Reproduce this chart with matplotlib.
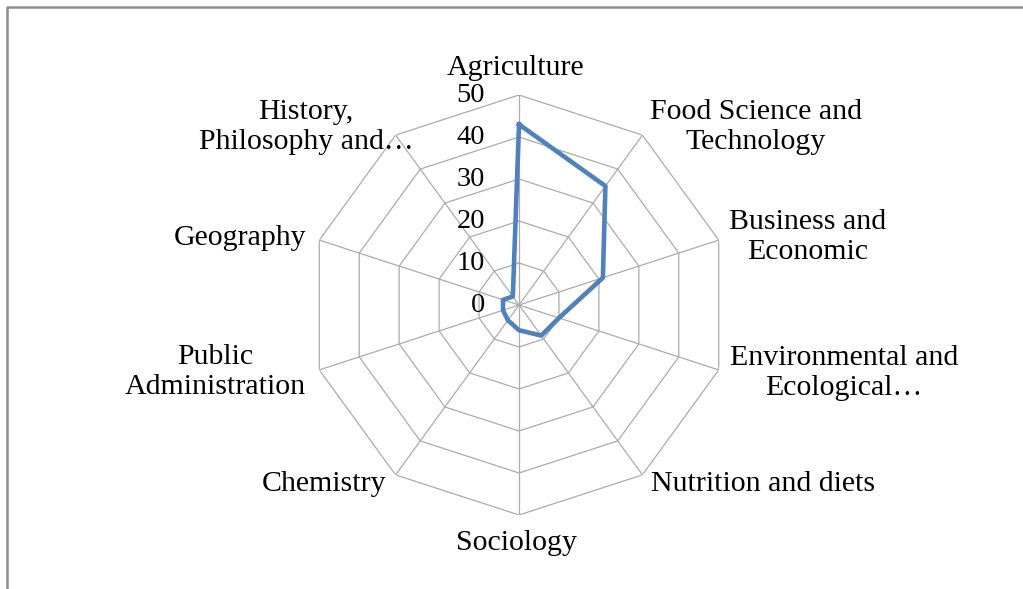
import numpy as np
import matplotlib
matplotlib.use("Agg")
import matplotlib.pyplot as plt
from matplotlib.lines import Line2D

categories = ["Agriculture", "Food Science and\nTechnology", "Business and\nEconomic",
              "Environmental and\nEcological\u2026", "Nutrition and diets", "Sociology",
              "Chemistry", "Public\nAdministration", "Geography", "History,\nPhilosophy and\u2026"]
values = [43, 35, 21, 10, 9, 6, 4.5, 4, 4, 2.5]
ticks = [0, 10, 20, 30, 40, 50]

# label centres in pixels (x, y from top)
label_px = [(516, 68), (756, 127), (808, 237), (844, 373), (763, 484),
            (516, 543), (324, 484), (215, 372), (240, 238), (306, 127)]

W, H = 1023, 589
plt.rcParams['font.family'] = ['Liberation Serif', 'DejaVu Serif']

fig = plt.figure(figsize=(W / 100, H / 100), dpi=100)
cx, cy, rad = 519, 305, 210
ax = fig.add_axes([(cx - rad) / W, 1 - (cy + rad) / H, 2 * rad / W, 2 * rad / H],
                  projection='polar')
ax.set_theta_zero_location('N')
ax.set_theta_direction(-1)
ax.set_ylim(0, 50)
ax.grid(False)
ax.spines['polar'].set_visible(False)
ax.set_xticks([])
ax.set_yticks([])
ax.patch.set_alpha(0)

n = len(categories)
theta = np.linspace(0, 2 * np.pi, n, endpoint=False)
closed = np.append(theta, theta[0])

grid_col = '#ababab'
for t in ticks[1:]:
    ax.plot(closed, [t] * (n + 1), color=grid_col, lw=0.9, zorder=1)
for th in theta:
    ax.plot([th, th], [0, 50], color=grid_col, lw=0.9, zorder=1)

ax.plot(closed, values + [values[0]], color='#4f81bd', lw=3.3, zorder=3,
        solid_joinstyle='round')

for t in ticks:
    ax.annotate(str(t), xy=(0, t), xytext=(-24.5, 0), textcoords='offset points',
                ha='right', va='center', fontsize=20.5, annotation_clip=False)

for lab, (px, py) in zip(categories, label_px):
    fig.text(px / W, 1 - py / H, lab, ha='center', va='center', fontsize=21.5,
             linespacing=1.2)

# chart frame (top and left edges)
fig.add_artist(Line2D([7 / W, 7 / W, 1], [0, 1 - 7 / H, 1 - 7 / H],
                      transform=fig.transFigure, color='#8c8c8c', lw=1.8))

fig.savefig('out.png', dpi=100)
